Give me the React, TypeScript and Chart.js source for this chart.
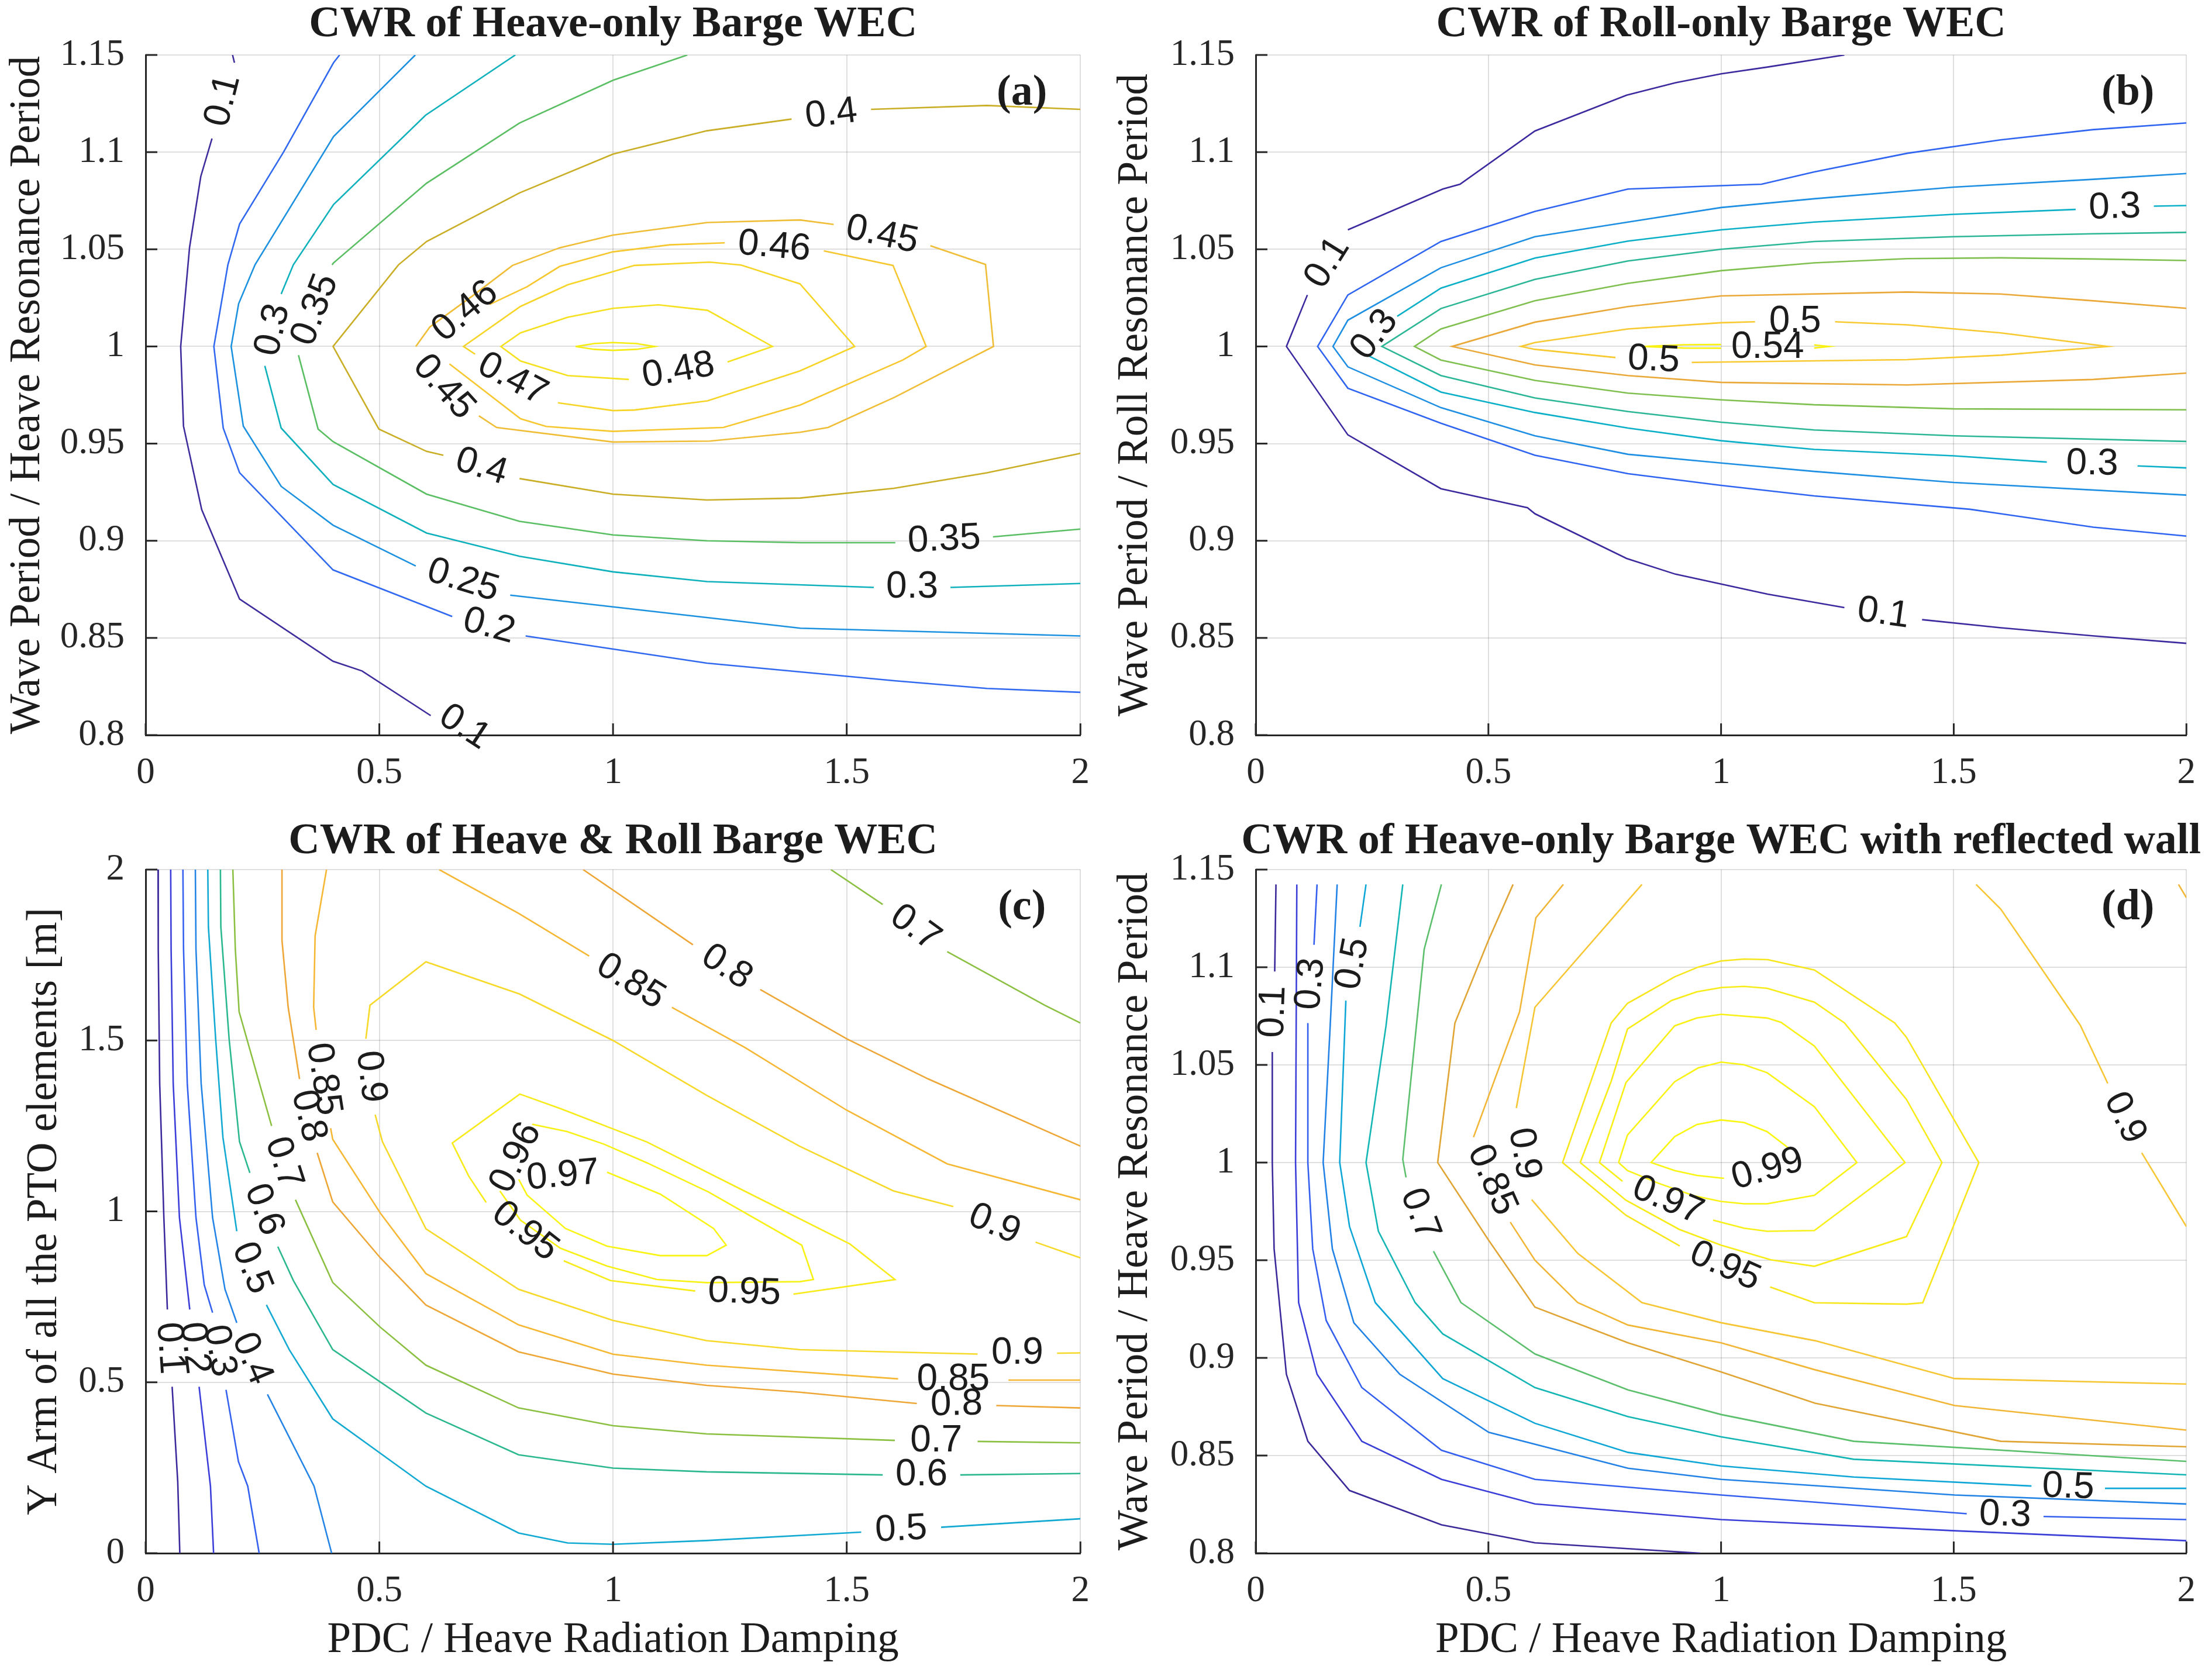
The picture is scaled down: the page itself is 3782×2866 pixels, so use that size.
import React, { useEffect, useRef } from 'react';
import Chart from 'chart.js/auto';

type Pt = [number, number];
type Seg = Pt[];
type Label = [string, number, number, number]; // text, x, y, angle (deg)

// ---------- axis ticks ----------
const dampTicks = [0, 0.5, 1, 1.5, 2];
const dampTickLabels = ['0', '0.5', '1', '1.5', '2'];
const periodTicks = [0.8, 0.85, 0.9, 0.95, 1, 1.05, 1.1, 1.15];
const periodTickLabels = ['0.8', '0.85', '0.9', '0.95', '1', '1.05', '1.1', '1.15'];
const armTicks = [0, 0.5, 1, 1.5, 2];
const armTickLabels = ['0', '0.5', '1', '1.5', '2'];

// ---------- (a) heave-only ----------
const a10: Seg[] = [
  [[0.186, 1.15], [0.19, 1.146]],
  [[0.142, 1.107], [0.118, 1.0875], [0.094, 1.051], [0.075, 1.0], [0.081, 0.959], [0.12, 0.916], [0.201, 0.87], [0.401, 0.838], [0.463, 0.833], [0.61, 0.81]],
];
const a20: Seg[] = [
  [[0.415, 1.15], [0.402, 1.146], [0.295, 1.1], [0.201, 1.063], [0.176, 1.042], [0.146, 1.0], [0.166, 0.958], [0.201, 0.935], [0.401, 0.885], [0.656, 0.861]],
  [[0.813, 0.851], [1.201, 0.837], [1.601, 0.828], [1.8, 0.824], [2.0, 0.822]],
];
const a25: Seg[] = [
  [[0.577, 1.15], [0.402, 1.108], [0.234, 1.042], [0.199, 1.022], [0.183, 1.0], [0.209, 0.959], [0.29, 0.928], [0.401, 0.908], [0.578, 0.887]],
  [[0.78, 0.872], [1.0, 0.866], [1.401, 0.855], [2.0, 0.851]],
];
const a30: Seg[] = [
  [[0.791, 1.15], [0.599, 1.119], [0.402, 1.073], [0.316, 1.042], [0.29, 1.027]],
  [[0.255, 0.99], [0.29, 0.958], [0.401, 0.929], [0.601, 0.904], [0.8, 0.892], [1.0, 0.884], [1.201, 0.879], [1.558, 0.876]],
  [[1.722, 0.876], [2.0, 0.878]],
];
const a35: Seg[] = [
  [[1.159, 1.15], [1.0, 1.137], [0.8, 1.115], [0.601, 1.084], [0.402, 1.043], [0.399, 1.042]],
  [[0.327, 0.9955], [0.369, 0.9575], [0.401, 0.951], [0.601, 0.924], [0.8, 0.91], [1.0, 0.903], [1.201, 0.9], [1.401, 0.899], [1.604, 0.899]],
  [[1.813, 0.902], [2.0, 0.906]],
];
const a40: Seg[] = [
  [[2.0, 1.122], [1.8, 1.124], [1.552, 1.122]],
  [[1.382, 1.117], [1.201, 1.111], [1.0, 1.099], [0.8, 1.079], [0.601, 1.054], [0.541, 1.042], [0.401, 1.0], [0.499, 0.9575], [0.601, 0.946], [0.637, 0.944]],
  [[0.8, 0.932], [1.0, 0.924], [1.201, 0.921], [1.401, 0.922], [1.601, 0.927], [1.8, 0.935], [2.0, 0.945]],
];
const a45: Seg[] = [
  [[0.713, 0.9643], [0.751, 0.9583], [1.0, 0.9508], [1.207, 0.9513], [1.4, 0.9558], [1.46, 0.9583], [1.603, 0.9739], [1.814, 1.0], [1.797, 1.0422], [1.679, 1.0518]],
  [[1.472, 1.0628], [1.4, 1.0651], [1.202, 1.0638], [1.0, 1.0573], [0.886, 1.0508], [0.785, 1.0417], [0.697, 1.0256], [0.608, 1.01], [0.578, 1.0]],
];
const a46: Seg[] = [
  [[0.65, 0.991], [0.802, 0.9628], [0.857, 0.9588], [1.0, 0.9563], [1.236, 0.9583], [1.4, 0.9698], [1.62, 0.993], [1.67, 1.0], [1.599, 1.0417], [1.451, 1.0492]],
  [[1.239, 1.0533], [1.122, 1.0523], [1.0, 1.0487], [0.886, 1.0412], [0.816, 1.0307], [0.736, 1.0216]],
];
const a47: Seg[] = [
  [[0.705, 0.996], [0.68, 1.0], [0.802, 1.0206], [0.903, 1.0317], [1.046, 1.0417], [1.207, 1.0434], [1.274, 1.0419], [1.4, 1.0322], [1.517, 1.0], [1.4, 0.9874], [1.202, 0.972], [1.046, 0.9673], [1.0, 0.967], [0.882, 0.971]],
];
const a48: Seg[] = [
  [[1.034, 0.983], [0.903, 0.985], [0.802, 0.9925], [0.76, 1.0], [0.802, 1.007], [0.903, 1.015], [1.0, 1.0196], [1.097, 1.0214], [1.202, 1.0186], [1.341, 1.0], [1.245, 0.992]],
];
const a49: Seg[] = [
  [[0.92, 1.0], [0.96, 1.0015], [1.0, 1.002], [1.05, 1.0015], [1.089, 1.0], [1.05, 0.9985], [1.0, 0.998], [0.96, 0.9985], [0.92, 1.0]],
];
const aLabels: Label[] = [
  ['0.1', 0.166, 1.1265, -76], ['0.1', 0.682, 0.804, 33], ['0.2', 0.7345, 0.856, 15],
  ['0.25', 0.679, 0.8795, 17], ['0.3', 0.2725, 1.0085, -77], ['0.3', 1.64, 0.876, 0],
  ['0.35', 0.363, 1.0188, -69], ['0.35', 1.7085, 0.9005, -3], ['0.4', 1.467, 1.1195, -7],
  ['0.4', 0.7185, 0.938, 17], ['0.45', 1.5755, 1.0573, 12], ['0.45', 0.638, 0.979, 48],
  ['0.46', 1.345, 1.0513, 5], ['0.46', 0.684, 1.018, -40], ['0.47', 0.785, 0.983, 28],
  ['0.48', 1.14, 0.9875, -10],
];

// ---------- (b) roll-only ----------
const b10: Seg[] = [
  [[0.111, 1.0265], [0.066, 1.0], [0.198, 0.9545], [0.398, 0.9268], [0.584, 0.917], [0.6, 0.9139], [0.797, 0.8909], [0.902, 0.8828], [1.1, 0.8725], [1.265, 0.8656]],
  [[0.198, 1.06], [0.402, 1.081], [0.439, 1.0835], [0.6, 1.1109], [0.797, 1.1293], [0.902, 1.1357], [1.0, 1.1403], [1.1, 1.1438], [1.265, 1.15]],
  [[1.432, 0.8594], [1.601, 0.8552], [1.798, 0.8511], [2.0, 0.8472]],
];
const b20: Seg[] = [
  [[2.0, 1.115], [1.8, 1.1116], [1.6, 1.1063], [1.4, 1.0994], [1.2, 1.0898], [1.087, 1.0835], [0.8, 1.081], [0.6, 1.0695], [0.398, 1.054], [0.198, 1.0265], [0.133, 1.0],
    [0.198, 0.9785], [0.398, 0.9605], [0.6, 0.944], [0.8, 0.9345], [1.0, 0.9285], [1.2, 0.9231], [1.535, 0.9162], [1.601, 0.9139], [1.8, 0.907], [2.0, 0.9024]],
];
const b25: Seg[] = [
  [[2.0, 1.089], [1.8, 1.086], [1.5, 1.082], [1.2, 1.076], [1.0, 1.0715], [0.8, 1.064], [0.6, 1.0565], [0.398, 1.0405], [0.198, 1.0135], [0.166, 1.0],
    [0.198, 0.9895], [0.398, 0.9685], [0.6, 0.954], [0.8, 0.9445], [1.0, 0.94], [1.2, 0.9357], [1.5, 0.93], [2.0, 0.9235]],
];
const b30: Seg[] = [
  [[2.0, 1.0725], [1.93, 1.0722]],
  [[1.762, 1.0705], [1.5, 1.068], [1.2, 1.064], [1.0, 1.06], [0.8, 1.0542], [0.6, 1.0455], [0.398, 1.03], [0.304, 1.0155]],
  [[0.24, 0.9955], [0.398, 0.9765], [0.6, 0.966], [0.8, 0.958], [1.0, 0.9515], [1.2, 0.947], [1.5, 0.9437], [1.7, 0.9405]],
  [[1.895, 0.9385], [2.0, 0.9375]],
];
const b35: Seg[] = [
  [[2.0, 1.0587], [1.8, 1.058], [1.5, 1.0565], [1.2, 1.054], [1.0, 1.05], [0.8, 1.044], [0.6, 1.0345], [0.398, 1.0195], [0.271, 1.0],
    [0.398, 0.985], [0.6, 0.9735], [0.8, 0.9665], [1.0, 0.961], [1.2, 0.957], [1.5, 0.954], [2.0, 0.9511]],
];
const b40: Seg[] = [
  [[2.0, 1.0442], [1.8, 1.045], [1.6, 1.0456], [1.4, 1.0452], [1.2, 1.043], [1.0, 1.039], [0.8, 1.0325], [0.6, 1.0235], [0.398, 1.009], [0.341, 1.0],
    [0.398, 0.993], [0.6, 0.9825], [0.8, 0.976], [1.0, 0.9725], [1.2, 0.97], [1.5, 0.9679], [2.0, 0.9674]],
];
const b45: Seg[] = [
  [[2.0, 1.0196], [1.8, 1.0235], [1.6, 1.027], [1.4, 1.028], [1.0, 1.026], [0.8, 1.0205], [0.6, 1.0125], [0.422, 1.0],
    [0.6, 0.9905], [0.8, 0.985], [1.0, 0.9815], [1.4, 0.9802], [1.8, 0.983], [2.0, 0.9863]],
];
const b50: Seg[] = [
  [[1.073, 1.0127], [1.0, 1.0122], [0.8, 1.009], [0.6, 1.002], [0.57, 1.0], [0.6, 0.9985], [0.773, 0.9943]],
  [[1.245, 1.0127], [1.4, 1.0111], [1.601, 1.007], [1.831, 1.0], [1.601, 0.9955], [1.4, 0.9932], [0.937, 0.9918]],
];
const b54: Seg[] = [
  [[1.0, 1.001], [0.92, 1.0009], [0.83, 1.0], [0.92, 0.9992], [1.0, 0.9991]],
  [[1.2, 1.0008], [1.232, 1.0], [1.2, 0.9992]],
];
const bLabels: Label[] = [
  ['0.1', 0.1545, 1.043, -58], ['0.1', 1.3485, 0.8625, 8], ['0.3', 0.2555, 1.006, -52],
  ['0.3', 1.846, 1.0714, -2], ['0.3', 1.7975, 0.9395, 1], ['0.5', 1.159, 1.0127, 0],
  ['0.5', 0.855, 0.993, 3], ['0.54', 1.1, 0.9995, 0],
];

// ---------- (c) heave & roll ----------
const c10: Seg[] = [
  [[0.0266, 2.0], [0.027, 1.767], [0.0301, 1.374], [0.039, 0.982], [0.0465, 0.713]],
  [[0.0567, 0.487], [0.0687, 0.209], [0.0731, 0.0]],
];
const c20: Seg[] = [
  [[0.0536, 2.0], [0.0545, 1.767], [0.059, 1.374], [0.0723, 0.982], [0.0944, 0.713]],
  [[0.1144, 0.487], [0.1387, 0.196], [0.1454, 0.0]],
];
const c30: Seg[] = [
  [[0.0798, 2.0], [0.0811, 1.767], [0.0891, 1.374], [0.1077, 0.982], [0.1254, 0.785], [0.1432, 0.704]],
  [[0.172, 0.478], [0.1986, 0.268], [0.2185, 0.196], [0.2429, 0.0]],
];
const c40: Seg[] = [
  [[0.1064, 2.0], [0.1077, 1.767], [0.1188, 1.374], [0.1432, 0.982], [0.1698, 0.772], [0.195, 0.674]],
  [[0.2606, 0.4646], [0.3604, 0.196], [0.398, 0.0]],
];
const c50: Seg[] = [
  [[0.133, 2.0], [0.1343, 1.8325], [0.1498, 1.505], [0.1653, 1.217], [0.195, 0.942]],
  [[0.2584, 0.7264], [0.3072, 0.5955], [0.4003, 0.393], [0.5997, 0.196], [0.798, 0.059], [0.903, 0.03], [1.0, 0.026], [1.2, 0.037], [1.531, 0.0615]],
  [[1.702, 0.0759], [2.0, 0.1008]],
];
const c60: Seg[] = [
  [[0.16, 2.0], [0.1609, 1.8325], [0.1786, 1.505], [0.2008, 1.204], [0.223, 1.1126]],
  [[0.2828, 0.897], [0.316, 0.798], [0.4003, 0.5955], [0.5997, 0.41], [0.798, 0.288], [1.0, 0.249], [1.2, 0.238], [1.577, 0.229]],
  [[1.743, 0.229], [2.0, 0.233]],
];
const c70: Seg[] = [
  [[0.1866, 2.0], [0.1919, 1.767], [0.2, 1.584], [0.2695, 1.25]],
  [[0.3205, 1.034], [0.4003, 0.792], [0.5022, 0.661], [0.5997, 0.55], [0.798, 0.425], [1.0, 0.373], [1.2, 0.349], [1.603, 0.33]],
  [[1.78, 0.327], [2.0, 0.323]],
  [[1.466, 2.0], [1.577, 1.898]],
  [[1.715, 1.76], [1.924, 1.603], [2.0, 1.551]],
];
const c80: Seg[] = [
  [[0.2917, 2.0], [0.2917, 1.793], [0.305, 1.597], [0.3293, 1.387]],
  [[0.367, 1.1715], [0.4003, 1.0275], [0.5022, 0.864], [0.5997, 0.726], [0.798, 0.589], [1.0, 0.524], [1.2, 0.491], [1.4, 0.471], [1.65, 0.438]],
  [[1.82, 0.432], [2.0, 0.425]],
  [[0.936, 2.0], [1.171, 1.78]],
  [[1.315, 1.649], [1.5, 1.505], [1.675, 1.387], [2.0, 1.191]],
];
const c85: Seg[] = [
  [[0.387, 2.0], [0.3626, 1.806], [0.3595, 1.597], [0.3648, 1.531]],
  [[0.3958, 1.2435], [0.4003, 1.211], [0.5022, 0.995], [0.5997, 0.818], [0.798, 0.668], [1.0, 0.582], [1.2, 0.55], [1.61, 0.51]],
  [[1.846, 0.5065], [2.0, 0.5065]],
  [[0.628, 2.0], [0.798, 1.872], [0.949, 1.747]],
  [[1.126, 1.597], [1.283, 1.479], [1.5, 1.296], [1.715, 1.139], [2.0, 1.034]],
];
const c90: Seg[] = [
  [[1.728, 1.014], [1.6, 1.06], [1.4, 1.19], [1.2, 1.34], [1.0, 1.5], [0.8, 1.636], [0.5997, 1.73], [0.48, 1.603], [0.4712, 1.505]],
  [[0.4911, 1.283], [0.5066, 1.204], [0.5997, 0.949], [0.798, 0.772], [1.0, 0.681], [1.2, 0.622], [1.4, 0.5955], [1.78, 0.5825]],
  [[1.95, 0.585], [2.0, 0.586]],
  [[1.904, 0.91], [2.0, 0.864]],
];
const c95: Seg[] = [
  [[0.7286, 1.0262], [0.6916, 1.1024], [0.656, 1.2], [0.8006, 1.3433], [0.8875, 1.3006], [1.0726, 1.203], [1.2721, 1.0659], [1.5071, 0.9043], [1.6033, 0.8006], [1.386, 0.7579]],
  [[1.1759, 0.7671], [0.9943, 0.7976], [0.8946, 0.8555]],
];
const c96: Seg[] = [
  [[0.8269, 1.2549], [0.9017, 1.2335], [0.9801, 1.197], [1.0726, 1.1421], [1.2044, 1.0567], [1.4038, 0.9012], [1.4288, 0.8006], [1.4003, 0.7945], [1.2009, 0.7915],
    [1.094, 0.8006], [0.9872, 0.8402], [0.8875, 0.8921], [0.802, 0.9744], [0.7578, 1.0598]],
];
const c97: Seg[] = [
  [[0.9872, 1.1146], [1.1011, 1.0506], [1.2151, 0.95], [1.2422, 0.9012], [1.2009, 0.8707], [1.1011, 0.8707], [0.9872, 0.8982], [0.8981, 0.95], [0.8162, 1.0476], [0.7984, 1.0933]],
];
const cLabels: Label[] = [
  ['0.1', 0.0514, 0.6, 86], ['0.2', 0.1042, 0.6, 83], ['0.3', 0.1574, 0.592, 80],
  ['0.4', 0.2274, 0.569, 67], ['0.5', 0.2267, 0.834, 68], ['0.6', 0.2529, 1.0048, 69],
  ['0.7', 0.295, 1.142, 72], ['0.8', 0.348, 1.279, 76], ['0.85', 0.38, 1.387, 81],
  ['0.9', 0.481, 1.394, 83], ['0.95', 0.8116, 0.941, 38], ['0.95', 1.281, 0.7625, 2],
  ['0.96', 0.7924, 1.157, -64], ['0.97', 0.8928, 1.104, -5], ['0.7', 1.6465, 1.829, 36],
  ['0.8', 1.243, 1.7145, 33], ['0.85', 1.0375, 1.672, 32], ['0.9', 1.816, 0.962, 23],
  ['0.9', 1.865, 0.584, 0], ['0.85', 1.728, 0.508, 0], ['0.8', 1.735, 0.435, -1],
  ['0.7', 1.6915, 0.3285, 0], ['0.6', 1.66, 0.229, 0], ['0.5', 1.6165, 0.0687, -3],
];

// ---------- (d) heave-only with reflected wall ----------
const d10: Seg[] = [
  [[0.0435, 1.1424], [0.0408, 1.0978]],
  [[0.0356, 1.0566], [0.0356, 1.0], [0.0395, 0.9558], [0.0659, 0.8916], [0.112, 0.8573], [0.2016, 0.8321], [0.3992, 0.8145], [0.6, 0.8053], [0.955, 0.8]],
];
const d20: Seg[] = [
  [[0.0883, 1.1424], [0.0856, 1.0], [0.0922, 0.9283], [0.1318, 0.8916], [0.228, 0.8573], [0.3992, 0.8378], [0.6, 0.8252], [1.0, 0.8172], [1.502, 0.8115], [2.0, 0.8064]],
];
const d30: Seg[] = [
  [[0.1318, 1.1424], [0.1252, 1.1115]],
  [[0.112, 1.0714], [0.112, 1.0], [0.1225, 0.9558], [0.1515, 0.9191], [0.228, 0.8848], [0.3992, 0.8527], [0.6, 0.8378], [1.0, 0.8298], [1.528, 0.8202]],
  [[1.693, 0.8188], [2.0, 0.8172]],
];
const d40: Seg[] = [
  [[0.175, 1.1424], [0.16, 1.07], [0.1449, 1.0], [0.1647, 0.9558], [0.2108, 0.918], [0.3096, 0.8916], [0.5007, 0.8619], [0.8, 0.8435], [1.0, 0.8378], [1.502, 0.8298], [2.0, 0.8252]],
];
const d50: Seg[] = [
  [[0.237, 1.1424], [0.224, 1.1207]],
  [[0.1937, 1.0829], [0.1805, 1.0], [0.2016, 0.9672], [0.2569, 0.9283], [0.4018, 0.8894], [0.6, 0.8665], [0.8, 0.8516], [1.0, 0.8447], [1.285, 0.839], [1.667, 0.8344]],
  [[1.825, 0.8332], [2.0, 0.8332]],
];
const d60: Seg[] = [
  [[0.316, 1.1424], [0.28, 1.07], [0.237, 1.0], [0.2635, 0.9649], [0.3426, 0.9283], [0.4018, 0.9123], [0.6, 0.8848], [0.8, 0.8699], [1.0, 0.8596], [1.285, 0.8481], [2.0, 0.8401]],
];
const d70: Seg[] = [
  [[0.399, 1.1424], [0.362, 1.1092], [0.316, 1.0016], [0.323, 0.9924]],
  [[0.382, 0.9546], [0.441, 0.9283], [0.6, 0.902], [0.8, 0.8836], [1.0, 0.871], [1.285, 0.8573], [2.0, 0.847]],
];
const d80: Seg[] = [
  [[0.553, 1.1424], [0.5, 1.1138], [0.428, 1.0714], [0.391, 1.0], [0.5, 0.9604], [0.6, 0.926], [0.8, 0.9077], [1.0, 0.8928], [1.202, 0.8768], [1.601, 0.8573], [2.0, 0.8545]],
];
const d85: Seg[] = [
  [[0.661, 1.1424], [0.602, 1.1253], [0.567, 1.0772], [0.468, 1.013]],
  [[0.547, 0.9695], [0.6, 0.95], [0.692, 0.9283], [0.8, 0.9168], [1.0, 0.9077], [1.202, 0.8939], [1.502, 0.8756], [2.0, 0.863]],
  [[1.983, 1.1424], [2.0, 1.1356]],
];
const d90: Seg[] = [
  [[0.83, 1.1424], [0.6, 1.0795], [0.56, 1.0279]],
  [[0.593, 0.981], [0.692, 0.9535], [0.83, 0.9283], [1.0, 0.918], [1.202, 0.9088], [1.502, 0.8894], [2.0, 0.8866]],
  [[1.548, 1.1424], [1.601, 1.1298], [1.772, 1.0703], [1.831, 1.0405]],
  [[1.904, 1.005], [2.0, 0.9672]],
];
const d95: Seg[] = [
  [[0.9112, 0.9573], [0.7957, 0.973], [0.6593, 1.0], [0.764, 1.0715], [0.7989, 1.0815], [0.9004, 1.0951], [0.9511, 1.1001], [1.0, 1.1032], [1.0495, 1.1042], [1.1003, 1.1039],
    [1.2005, 1.0986], [1.3731, 1.0715], [1.3985, 1.0641], [1.5539, 1.0], [1.4334, 0.9282], [1.3985, 0.9275], [1.2005, 0.9282], [1.1053, 0.9363]],
];
const d96: Seg[] = [
  [[0.6973, 1.0], [0.764, 1.0417], [0.7989, 1.0684], [0.894, 1.083], [0.948, 1.0874], [1.0, 1.0896], [1.0495, 1.0902], [1.099, 1.0892], [1.2005, 1.0821], [1.2652, 1.0715],
    [1.3985, 1.0323], [1.4746, 1.0], [1.3985, 0.9621], [1.2005, 0.9469], [1.1066, 0.9502], [1.0, 0.9577], [0.9099, 0.9658], [0.7957, 0.9807], [0.6973, 1.0]],
];
const d97: Seg[] = [
  [[0.9829, 0.9705], [1.0495, 0.9664], [1.099, 0.9648], [1.2005, 0.9652], [1.3953, 1.0], [1.2005, 1.0597], [1.1288, 1.0718], [1.099, 1.074], [1.0, 1.0759], [0.948, 1.074],
    [0.9004, 1.07], [0.7957, 1.041], [0.7386, 1.0], [0.7881, 0.9904]],
];
const d98: Seg[] = [
  [[0.7798, 1.0], [0.7989, 1.0141], [0.9004, 1.0414], [0.9511, 1.0485], [1.0, 1.0514], [1.0495, 1.0501], [1.099, 1.046], [1.2005, 1.0286], [1.2919, 1.0], [1.2005, 0.9832],
    [1.099, 0.9789], [1.0495, 0.9789], [1.0, 0.9801], [0.9416, 0.983], [0.8655, 0.9894], [0.7989, 0.9959], [0.7798, 1.0]],
];
const d99: Seg[] = [
  [[1.0063, 0.9919], [0.948, 0.9934], [0.9004, 0.9959], [0.8496, 1.0], [0.9004, 1.0133], [0.948, 1.0195], [1.0, 1.0218], [1.0495, 1.0205], [1.099, 1.0158], [1.1447, 1.0075]],
];
const dLabels: Label[] = [
  ['0.1', 0.0382, 1.0772, -88], ['0.3', 0.1186, 1.0915, -85], ['0.5', 0.209, 1.1018, -79],
  ['0.7', 0.3525, 0.9735, 69], ['0.85', 0.5075, 0.991, 66], ['0.9', 0.5765, 1.0045, 80],
  ['0.9', 1.8675, 1.0228, 64], ['0.99', 1.1, 0.9965, -16], ['0.97', 0.8855, 0.9805, 23],
  ['0.95', 1.0083, 0.9468, 24], ['0.5', 1.746, 0.8338, 2], ['0.3', 1.6105, 0.8195, 2],
];

// ---------- line colours (parula-like, per level) ----------
const aColors: Record<string, string> = {
  '0.1': '#3e2d9c', '0.2': '#3169f0', '0.25': '#1c91e0', '0.3': '#0fb1bd', '0.35': '#5abf63',
  '0.4': '#c9ae26', '0.45': '#f0bd36', '0.46': '#f7c72f', '0.47': '#f6d528', '0.48': '#f5e11f', '0.49': '#f5ec14',
};
const bColors: Record<string, string> = {
  '0.1': '#3b2b9e', '0.2': '#3065f2', '0.25': '#1e8fe2', '0.3': '#0bb0c8', '0.35': '#2bb695',
  '0.4': '#80c050', '0.45': '#eaa838', '0.5': '#f8c930', '0.54': '#f8f112',
};
const cColors: Record<string, string> = {
  '0.1': '#3b2a9c', '0.2': '#3c3ed9', '0.3': '#3561f0', '0.4': '#2585e6', '0.5': '#12a9d3',
  '0.6': '#2cb88e', '0.7': '#8cc043', '0.8': '#eea737', '0.85': '#f6b834', '0.9': '#f7d929',
  '0.95': '#f7eb1a', '0.96': '#f8f116', '0.97': '#f8f514',
};
const dColors: Record<string, string> = {
  '0.1': '#3b2a9a', '0.2': '#3b3fd8', '0.3': '#3560ef', '0.4': '#2382e6', '0.5': '#0ea6d6',
  '0.6': '#13b5b5', '0.7': '#5cbf6c', '0.8': '#e0a534', '0.85': '#f2b637', '0.9': '#f6c634',
  '0.95': '#f7e61c', '0.96': '#f8ec18', '0.97': '#f8f016', '0.98': '#f8f314', '0.99': '#f9f612',
};

const SERIF = '"Liberation Serif", "Times New Roman", serif';
const SANS = '"Liberation Sans", Arial, sans-serif';
const INK = '#1c1c1c';
const AXIS = '#262626';

interface Box { left: number; top: number; right: number; bottom: number }

interface PanelProps {
  contours: [number, Seg[]][];
  labels: Label[];
  colors: Record<string, string>;
  yRange: [number, number];
  yTicks: number[];
  yTickLabels: string[];
  title: string;
  yTitle: string;
  xTitle?: string;
  letter: string;
  box: Box;
  width: number;
  height: number;
  left: number;
  top: number;
  yTitleX: number;
  titleY: number;
  xTitleY?: number;
}

const Panel: React.FC<PanelProps> = (p) => {
  const ref = useRef<HTMLCanvasElement>(null);

  useEffect(() => {
    if (!ref.current) return;
    const datasets = p.contours.flatMap(([lvl, segs]) =>
      segs.map((seg) => ({
        data: seg.map(([x, y]) => ({ x, y })),
        showLine: true,
        borderColor: p.colors[String(lvl)],
        borderWidth: 2.6,
        pointRadius: 0,
        pointHoverRadius: 0,
        fill: false,
        tension: 0,
      }))
    );

    const decor = {
      id: 'decor',
      afterDatasetsDraw(chart: any) {
        const { ctx, chartArea: a, scales } = chart;
        const xs = scales.x;
        const ys = scales.y;
        ctx.save();
        // contour labels
        ctx.fillStyle = INK;
        ctx.font = `64px ${SANS}`;
        ctx.textAlign = 'center';
        ctx.textBaseline = 'middle';
        p.labels.forEach(([t, lx, ly, ang]) => {
          ctx.save();
          ctx.translate(xs.getPixelForValue(lx), ys.getPixelForValue(ly));
          ctx.rotate((ang * Math.PI) / 180);
          ctx.fillText(t, 0, 0);
          ctx.restore();
        });
        // inward tick marks
        ctx.strokeStyle = AXIS;
        ctx.lineWidth = 3;
        p.yTicks.forEach((v) => {
          const py = ys.getPixelForValue(v);
          ctx.beginPath();
          ctx.moveTo(a.left, py);
          ctx.lineTo(a.left + 20, py);
          ctx.stroke();
        });
        dampTicks.forEach((v) => {
          const px = xs.getPixelForValue(v);
          ctx.beginPath();
          ctx.moveTo(px, a.bottom);
          ctx.lineTo(px, a.bottom - 20);
          ctx.stroke();
        });
        // title, panel letter, axis titles
        const cx = (a.left + a.right) / 2;
        ctx.fillStyle = INK;
        ctx.font = `bold 74px ${SERIF}`;
        ctx.fillText(p.title, cx, p.titleY);
        ctx.font = `bold 74px ${SERIF}`;
        ctx.fillText(p.letter, a.right - 100, a.top + 66);
        ctx.font = `73px ${SERIF}`;
        if (p.xTitle && p.xTitleY) ctx.fillText(p.xTitle, cx, p.xTitleY);
        ctx.save();
        ctx.translate(p.yTitleX, (a.top + a.bottom) / 2);
        ctx.rotate(-Math.PI / 2);
        ctx.fillText(p.yTitle, 0, 0);
        ctx.restore();
        ctx.restore();
      },
    };

    const chart = new Chart(ref.current, {
      type: 'scatter',
      data: { datasets },
      options: {
        responsive: false,
        animation: false,
        devicePixelRatio: 1,
        events: [],
        layout: {
          padding: { left: 0, top: p.box.top, right: p.width - p.box.right, bottom: 0 },
        },
        plugins: { legend: { display: false }, tooltip: { enabled: false } },
        scales: {
          x: {
            type: 'linear',
            min: 0,
            max: 2,
            afterBuildTicks: (s: any) => {
              s.ticks = dampTicks.map((value) => ({ value }));
            },
            afterFit: (s: any) => {
              s.height = p.height - p.box.bottom;
            },
            ticks: {
              autoSkip: false,
              maxRotation: 0,
              minRotation: 0,
              padding: 28,
              color: AXIS,
              font: { family: SERIF, size: 63 },
              callback: (_v: any, i: number) => dampTickLabels[i],
            },
            grid: { color: 'rgba(38,38,38,0.15)', lineWidth: 2, drawTicks: false },
            border: { display: true, color: AXIS, width: 3 },
          },
          y: {
            type: 'linear',
            min: p.yRange[0],
            max: p.yRange[1],
            afterBuildTicks: (s: any) => {
              s.ticks = p.yTicks.map((value) => ({ value }));
            },
            afterFit: (s: any) => {
              s.width = p.box.left;
            },
            ticks: {
              autoSkip: false,
              padding: 36,
              color: AXIS,
              font: { family: SERIF, size: 63 },
              callback: (_v: any, i: number) => p.yTickLabels[i],
            },
            grid: { color: 'rgba(38,38,38,0.15)', lineWidth: 2, drawTicks: false },
            border: { display: true, color: AXIS, width: 3 },
          },
        },
      },
      plugins: [decor],
    } as any);

    return () => chart.destroy();
  }, []);

  return (
    <canvas
      ref={ref}
      width={p.width}
      height={p.height}
      style={{ position: 'absolute', left: p.left, top: p.top, width: p.width, height: p.height }}
    />
  );
};

const aContours: [number, Seg[]][] = [
  [0.1, a10], [0.2, a20], [0.25, a25], [0.3, a30], [0.35, a35], [0.4, a40],
  [0.45, a45], [0.46, a46], [0.47, a47], [0.48, a48], [0.49, a49],
];
const bContours: [number, Seg[]][] = [
  [0.1, b10], [0.2, b20], [0.25, b25], [0.3, b30], [0.35, b35], [0.4, b40], [0.45, b45], [0.5, b50], [0.54, b54],
];
const cContours: [number, Seg[]][] = [
  [0.1, c10], [0.2, c20], [0.3, c30], [0.4, c40], [0.5, c50], [0.6, c60], [0.7, c70],
  [0.8, c80], [0.85, c85], [0.9, c90], [0.95, c95], [0.96, c96], [0.97, c97],
];
const dContours: [number, Seg[]][] = [
  [0.1, d10], [0.2, d20], [0.3, d30], [0.4, d40], [0.5, d50], [0.6, d60], [0.7, d70], [0.8, d80],
  [0.85, d85], [0.9, d90], [0.95, d95], [0.96, d96], [0.97, d97], [0.98, d98], [0.99, d99],
];

const W = 1891;
const TOP_H = 1400;
const BOT_H = 1466;

export default function App() {
  return (
    <div style={{ position: 'absolute', left: 0, top: 0, width: 3782, height: 2866, background: '#fff', overflow: 'hidden' }}>
      <Panel
        contours={aContours} labels={aLabels} colors={aColors}
        yRange={[0.8, 1.15]} yTicks={periodTicks} yTickLabels={periodTickLabels}
        title="CWR of Heave-only Barge WEC" yTitle="Wave Period / Heave Resonance Period" letter="(a)"
        box={{ left: 249, top: 94, right: 1858, bottom: 1257 }}
        width={W} height={TOP_H} left={0} top={0} yTitleX={48} titleY={43}
      />
      <Panel
        contours={bContours} labels={bLabels} colors={bColors}
        yRange={[0.8, 1.15]} yTicks={periodTicks} yTickLabels={periodTickLabels}
        title="CWR of Roll-only Barge WEC" yTitle="Wave Period / Roll Resonance Period" letter="(b)"
        box={{ left: 256, top: 94, right: 1865, bottom: 1257 }}
        width={W} height={TOP_H} left={W} top={0} yTitleX={51} titleY={43}
      />
      <Panel
        contours={cContours} labels={cLabels} colors={cColors}
        yRange={[0, 2]} yTicks={armTicks} yTickLabels={armTickLabels}
        title="CWR of Heave & Roll Barge WEC" yTitle="Y Arm of all the PTO elements [m]" letter="(c)"
        xTitle="PDC / Heave Radiation Damping"
        box={{ left: 249, top: 87, right: 1858, bottom: 1256 }}
        width={W} height={BOT_H} left={0} top={TOP_H} yTitleX={77} titleY={40} xTitleY={1406}
      />
      <Panel
        contours={dContours} labels={dLabels} colors={dColors}
        yRange={[0.8, 1.15]} yTicks={periodTicks} yTickLabels={periodTickLabels}
        title="CWR of Heave-only Barge WEC with reflected wall" yTitle="Wave Period / Heave Resonance Period" letter="(d)"
        xTitle="PDC / Heave Radiation Damping"
        box={{ left: 256, top: 87, right: 1865, bottom: 1256 }}
        width={W} height={BOT_H} left={W} top={TOP_H} yTitleX={51} titleY={40} xTitleY={1406}
      />
    </div>
  );
}
